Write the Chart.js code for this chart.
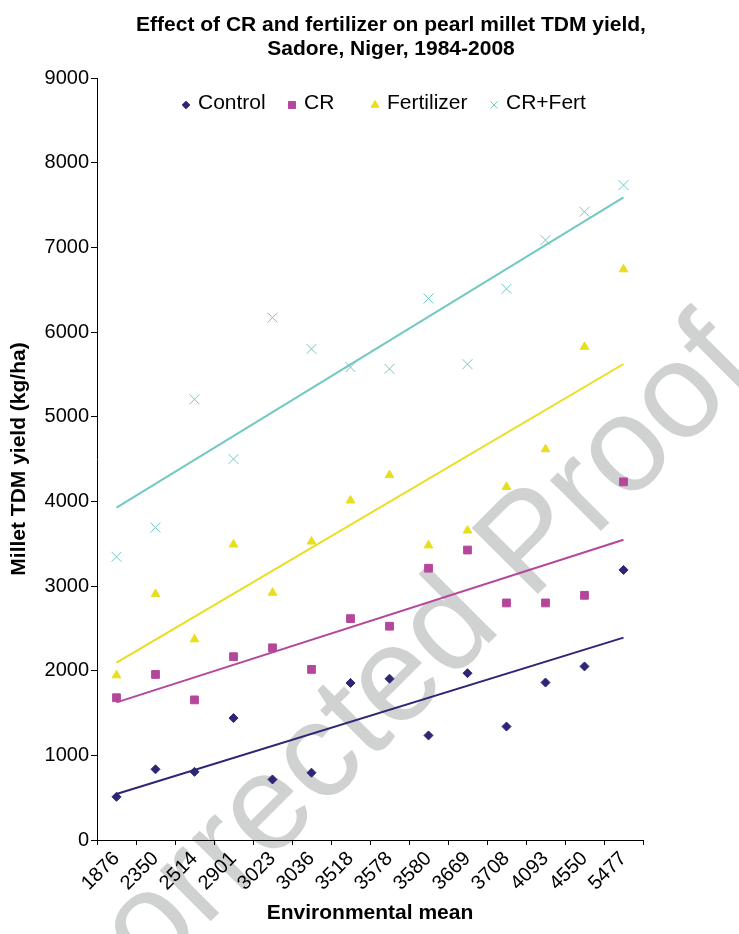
<!DOCTYPE html>
<html>
<head>
<meta charset="utf-8">
<title>Effect of CR and fertilizer on pearl millet TDM yield</title>
<script src="https://cdn.jsdelivr.net/npm/chart.js@4.4.1/dist/chart.umd.min.js"></script>
<style>
  html, body { margin: 0; padding: 0; background: #fff; }
  #yield-chart { display: block; }
</style>
</head>
<body>
<canvas id="yield-chart" width="739" height="934"></canvas>
<script>
// environmental means (x categories)
var categories = ['1876', '2350', '2514', '2901', '3023', '3036', '3518',
                  '3578', '3580', '3669', '3708', '4093', '4550', '5477'];

// millet TDM yield, kg/ha
var controlYield = [510, 835, 805, 1440, 715, 795, 1855, 1905, 1235, 1970, 1340, 1860, 2050, 3190];
var crYield      = [1680, 1955, 1655, 2165, 2270, 2015, 2615, 2525, 3210, 3425, 2800, 2800, 2890, 4230];
var fertYield    = [1945, 2905, 2370, 3490, 2920, 3525, 4010, 4310, 3480, 3655, 4170, 4615, 5825, 6740];
var crFertYield  = [3345, 3690, 5205, 4500, 6170, 5800, 5585, 5565, 6395, 5620, 6510, 7085, 7420, 7735];

// linear trend ends (Control, CR, Fertilizer, CR+Fert)
var trendStart = [543, 1626, 2094, 3925];
var trendEnd   = [2390, 3547, 5622, 7590];

var seriesNames = ['Control', 'CR', 'Fertilizer', 'CR+Fert'];
var yTickValues = [0, 1000, 2000, 3000, 4000, 5000, 6000, 7000, 8000, 9000];

var colNavy = '#2d2675';
var colMagenta = '#b5479b';
var colYellow = '#e9de1d';
var colTeal = '#72c9c2';
var fontFamily = '"Liberation Sans", Arial, Helvetica, sans-serif';

Chart.defaults.font.family = fontFamily;
Chart.defaults.color = '#000';

var pointSet = function (label, data, color, style, radius) {
  return {
    label: label,
    data: data,
    showLine: false,
    pointStyle: style,
    pointRadius: radius,
    pointHoverRadius: radius,
    pointBackgroundColor: color,
    pointBorderColor: color,
    pointBorderWidth: 1,
    backgroundColor: color,
    borderColor: color,
    borderWidth: 1
  };
};

var trendSet = function (i, color) {
  return {
    label: seriesNames[i] + ' trend',
    trend: true,
    data: [
      {x: categories[0], y: trendStart[i]},
      {x: categories[categories.length - 1], y: trendEnd[i]}
    ],
    borderColor: color,
    borderWidth: 2,
    pointRadius: 0,
    fill: false,
    tension: 0
  };
};

// white page, then the grey watermark under everything
var backdropPlugin = {
  id: 'backdrop',
  beforeDraw: function (chart) {
    var ctx = chart.ctx;
    ctx.save();
    ctx.fillStyle = '#fff';
    ctx.fillRect(0, 0, chart.width, chart.height);
    ctx.font = '136px ' + fontFamily;
    ctx.fillStyle = '#d0d1d1';
    ctx.textBaseline = 'alphabetic';
    var pre = ctx.measureText('Uncorrected ').width;
    ctx.translate(530, 602);
    ctx.rotate(-Math.PI / 4);
    ctx.fillText('Uncorrected Proof', -pre, 0);
    ctx.restore();
  }
};

var titlePlugin = {
  id: 'twoLineTitle',
  afterDraw: function (chart) {
    var ctx = chart.ctx;
    ctx.save();
    ctx.font = 'bold 21px ' + fontFamily;
    ctx.fillStyle = '#000';
    ctx.textAlign = 'center';
    ctx.textBaseline = 'middle';
    ctx.fillText('Effect of CR and fertilizer on pearl millet TDM yield,', 391, 25);
    ctx.fillText('Sadore, Niger, 1984-2008', 391, 49);
    ctx.restore();
  }
};

// one-row legend inside the plot, spaced like the original
var legendMarkerX = [186, 292, 375, 494];
var legendMarkerRadius = [3.8, 5, 4.6, 5];
var inPlotLegend = {
  id: 'inPlotLegend',
  afterDatasetsDraw: function (chart) {
    var ctx = chart.ctx;
    var y = chart.chartArea.top + 25;
    ctx.save();
    ctx.font = '21px ' + fontFamily;
    ctx.textBaseline = 'middle';
    ctx.textAlign = 'left';
    for (var i = 0; i < seriesNames.length; i++) {
      var ds = chart.data.datasets[i];
      ctx.fillStyle = ds.pointBackgroundColor;
      ctx.strokeStyle = ds.pointBorderColor;
      ctx.lineWidth = 1;
      Chart.helpers.drawPoint(ctx, {
        pointStyle: ds.pointStyle,
        rotation: 0,
        radius: legendMarkerRadius[i],
        borderWidth: 1
      }, legendMarkerX[i], y + 2);
      ctx.fillStyle = '#000';
      ctx.fillText(ds.label, legendMarkerX[i] + 12, y);
    }
    ctx.restore();
  }
};

var yieldChart = new Chart(document.getElementById('yield-chart'), {
  type: 'line',
  data: {
    labels: categories,
    datasets: [
      pointSet(seriesNames[0], controlYield, colNavy, 'rectRot', 4.5),
      pointSet(seriesNames[1], crYield, colMagenta, 'rect', 5.5),
      pointSet(seriesNames[2], fertYield, colYellow, 'triangle', 5),
      pointSet(seriesNames[3], crFertYield, colTeal, 'crossRot', 7),
      trendSet(0, colNavy),
      trendSet(1, colMagenta),
      trendSet(2, colYellow),
      trendSet(3, colTeal)
    ]
  },
  options: {
    responsive: false,
    animation: false,
    layout: {
      padding: {left: 0, right: 96, top: 78, bottom: 0}
    },
    plugins: {
      title: {display: false},
      tooltip: {enabled: false},
      legend: {display: false}
    },
    scales: {
      x: {
        type: 'category',
        offset: true,
        grid: {
          display: true,
          offset: true,
          drawOnChartArea: false,
          tickLength: 5,
          color: '#000'
        },
        border: {color: '#000', width: 1},
        ticks: {
          autoSkip: false,
          maxRotation: 45,
          minRotation: 45,
          padding: 2,
          color: '#000',
          font: {size: 20}
        },
        title: {
          display: true,
          text: 'Environmental mean',
          color: '#000',
          font: {size: 21, weight: 'bold'},
          padding: {top: 0, bottom: 8}
        },
        afterFit: function (scale) { scale.height = 94; }
      },
      y: {
        min: 0,
        max: 9000,
        afterBuildTicks: function (scale) {
          scale.ticks = yTickValues.map(function (v) { return {value: v}; });
        },
        grid: {
          display: true,
          drawOnChartArea: false,
          tickLength: 6,
          color: '#000'
        },
        border: {color: '#000', width: 1},
        ticks: {
          padding: 2,
          color: '#000',
          font: {size: 20},
          callback: function (value) { return String(value); }
        },
        title: {
          display: true,
          text: 'Millet TDM yield (kg/ha)',
          color: '#000',
          font: {size: 21, weight: 'bold'},
          padding: {top: 7, bottom: 0}
        },
        afterFit: function (scale) { scale.width = 97; }
      }
    }
  },
  plugins: [backdropPlugin, titlePlugin, inPlotLegend]
});
</script>
</body>
</html>
